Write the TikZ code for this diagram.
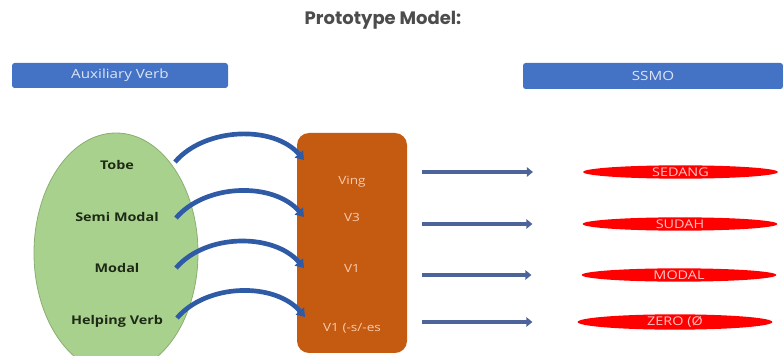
\documentclass[tikz,border=0pt]{standalone}
\usepackage{fontspec}
\setmainfont{Open Sans}[FakeStretch=1.2]
\newfontfamily\titlefont{Poppins}
\usetikzlibrary{arrows.meta,shapes.geometric,positioning}

\definecolor{barblue}{HTML}{4472C4}
\definecolor{leafgreen}{HTML}{A9D18E}
\definecolor{rimgreen}{HTML}{8AAE72}
\definecolor{rust}{HTML}{C55A11}
\definecolor{bendblue}{HTML}{2F5AA6}
\definecolor{flatblue}{HTML}{4C6499}
\definecolor{paleblue}{HTML}{DCE4F4}
\definecolor{palepeach}{HTML}{F8CBAD}
\definecolor{palepink}{HTML}{FFC4C4}
\definecolor{inkgreen}{HTML}{1C2A16}

\begin{document}
\begin{tikzpicture}[
	x = 0.75pt, y = -0.75pt, % one unit = one pixel of the reference
	header/.style={rectangle, rounded corners=2pt, fill=barblue, text=paleblue, inner sep=0pt, font=\fontsize{9.5}{11}\selectfont},  %blue title bars
	aux/.style={ellipse, draw=rimgreen, fill=leafgreen, line width=0.6pt, inner sep=0pt, minimum width=123pt, minimum height=180pt},
	kind/.style={font=\bfseries\fontsize{9}{10}\selectfont, text=inkgreen},
	form/.style={font=\fontsize{8.5}{10}\selectfont, text=palepeach},
	ssmo/.style={ellipse, fill=red, text=palepink, inner sep=0pt, minimum width=146pt, minimum height=10pt, font=\fontsize{9}{9}\selectfont},
	arcarrow/.style={draw=bendblue, line width=3.5pt, -{Triangle[length=6pt,width=8pt]}},
	flat/.style={draw=flatblue, line width=2.6pt, -{Triangle[length=4.5pt,width=7pt]}, shorten <=11pt, shorten >=37.5pt},
	]

	\useasboundingbox (0,0) rectangle (783,356);
	\clip (0,0) rectangle (783,356);

	% Title and headers
	\node[font=\titlefont\bfseries\fontsize{13.5}{15}\selectfont, text=black!70] (title) at (383,20) {Prototype Model:};
	\node[header, minimum width=162pt, minimum height=18.75pt] (auxbar) at (120,75.5) {Auxiliary Verb};
	\node[header, minimum width=195pt, minimum height=19.5pt] (ssmobar) at (653,76) {SSMO};

	% Auxiliary verbs
	\node[aux] (oval) at (116,253) {};
	\node[kind] (tobe) at (117,165) {Tobe};
	\node[kind] (semi) at (117,217) {Semi Modal};
	\node[kind] (modal) at (117,268) {Modal};
	\node[kind] (help) at (117,321) {Helping Verb};

	% Verb forms
	\node[rectangle, rounded corners=9pt, fill=rust, minimum width=82.5pt, minimum height=165pt] (box) at (352,243) {};
	\node[form] (ving) at (352,182) {Ving};
	\node[form] (vthree) at (352,217) {V3};
	\node[form] (vone) at (352,268) {V1};
	\node[form] (vones) at (352,328) {V1 (-s/-es};

	% Meanings
	\node[ssmo] (sedang) at (680.5,172) {SEDANG};
	\node[ssmo] (sudah) at (680,224) {SUDAH};
	\node[ssmo] (modalm) at (679,275) {MODAL};
	\node[ssmo] (zero) at (675,322) {ZERO (Ø};

	% Curved arrows from the oval to the box
	\coordinate (a1) at (175,162);  \coordinate (b1) at (304,160);
	\coordinate (a2) at (176,218);  \coordinate (b2) at (304,217);
	\coordinate (a3) at (176,268);  \coordinate (b3) at (304,268);
	\coordinate (a4) at (177,318);  \coordinate (b4) at (305,317);
	\draw[arcarrow] (a1) .. controls +(30,-35) and +(-30,-35) .. (b1);
	\draw[arcarrow] (a2) .. controls +(30,-35) and +(-30,-35) .. (b2);
	\draw[arcarrow] (a3) .. controls +(30,-35) and +(-30,-35) .. (b3);
	\draw[arcarrow] (a4) .. controls +(30,-35) and +(-30,-35) .. (b4);

	% Straight arrows from the box to the meanings
	\draw[flat] (box.east |- sedang.west) -- (sedang.west);
	\draw[flat] (box.east |- sudah.west) -- (sudah.west);
	\draw[flat] (box.east |- modalm.west) -- (modalm.west);
	\draw[flat] (box.east |- zero.west) -- ([xshift=3.75pt]zero.west);

\end{tikzpicture}
\end{document}
